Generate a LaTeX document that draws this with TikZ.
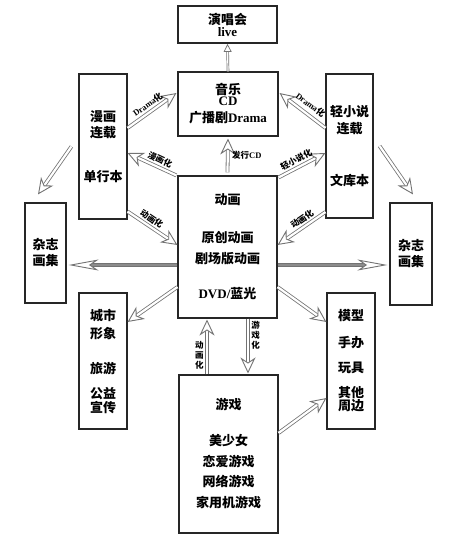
\documentclass[tikz,border=0pt]{standalone}
\usepackage{fontspec}
\setmainfont{Liberation Serif}
\newfontfamily\cjk{Noto Sans CJK SC}
\newcommand{\en}[1]{{\rmfamily\bfseries #1}}
\usetikzlibrary{arrows.meta, decorations.markings}

\tikzset{
  box/.style={draw=black!85, line width=1.1pt, inner sep=0pt, align=center,
    font=\cjk\bfseries\fontsize{13}{17}\selectfont},
  tip/.style={postaction={decorate, decoration={markings,
    mark=at position 1 with {\arrow[black!55, line width=0.9pt]{Stealth[open, fill=white, #1]}}}}},
  flow/.style={draw=black!55, line width=0.8pt, double=white, double distance=2.2pt,
    shorten >=9pt, tip={length=16pt, width=15pt, inset=5pt}},
  bar/.style={draw=black!55, line width=0.8pt, double=black!45, double distance=2.6pt,
    shorten >=22pt, tip={length=30pt, width=11pt, inset=8pt}},
  thin flow/.style={draw=black!55, line width=0.7pt, double=white, double distance=1.2pt,
    shorten >=5pt, postaction={decorate, decoration={markings,
    mark=at position 1 with {\arrow[black!55, line width=0.7pt]{Triangle[open, fill=white, length=8pt, width=8pt]}}}}},
  tag/.style={font=\cjk\bfseries\fontsize{8.5}{10}\selectfont, inner sep=1pt},
  vtag/.style={tag, align=center},
}

\begin{document}
\begin{tikzpicture}[x=1pt, y=-1pt]
  \useasboundingbox (0,0) rectangle (454,549);

  % boxes
  \node[box, line width=1.8pt, minimum width=99pt, minimum height=37pt] (live) at (227.5,24.5) {演唱会\\[-5pt]\en{live}};
  \node[box, minimum width=100pt, minimum height=64pt] (music) at (228,104) {音乐\\[-6pt]\en{CD}\\广播剧\en{Drama}};
  \node[box, minimum width=48pt, minimum height=145pt] (manga) at (103,146.5) {漫画\\[-1pt]连载\\[27pt]单行本};
  \node[box, minimum width=47pt, minimum height=144pt] (novel) at (349.5,146) {轻小说\\连载\\[35pt]文库本};
  \node[box, minimum width=99pt, minimum height=142pt] (anime) at (227.5,247) {动画\\[21pt]原创动画\\[4pt]剧场版动画\\[18pt]\en{DVD/}蓝光};
  \node[box, minimum width=41pt, minimum height=100pt] (magL) at (45.5,253) {杂志\\[-1pt]画集};
  \node[box, minimum width=42pt, minimum height=102pt] (magR) at (411,254) {杂志\\[-1pt]画集};
  \node[box, minimum width=48pt, minimum height=136pt] (city) at (103,361) {城市\\[1pt]形象\\[18pt]旅游\\[8pt]公益\\[-3pt]宣传};
  \node[box, minimum width=48pt, minimum height=136pt] (goods) at (351,361) {模型\\[10pt]手办\\[8pt]玩具\\[8pt]其他\\[-4pt]周边};
  \node[box, minimum width=99pt, minimum height=158pt] (game) at (228.5,454) {游戏\\[19pt]美少女\\[4pt]恋爱游戏\\[3pt]网络游戏\\[4pt]家用机游戏};

  % connectors
  \draw[thin flow] (music.north) -- (live.south);
  \draw[flow] ([yshift=18.5pt]manga.east) -- node[tag, sloped, above=2pt, pos=0.5] {\en{Drama}化} ([xshift=-1pt,yshift=11pt]music.west);
  \draw[flow] ([yshift=18pt]novel.west) -- node[tag, sloped, above=4pt, pos=0.45] {\en{Drama}化} ([xshift=1pt,yshift=11pt]music.east);
  \draw[flow] ([yshift=3pt]anime.north) -- node[tag, right=3pt] {发行\en{CD}} ([yshift=-2pt]music.south);
  \draw[flow] ([xshift=-1pt]anime.north west) -- node[tag, sloped, above=2pt, pos=0.4] {漫画化} ([yshift=-6.5pt]manga.east);
  \draw[flow] ([xshift=1pt,yshift=-2pt]anime.north east) -- node[tag, sloped, above=2pt, pos=0.45] {轻小说化} ([yshift=-7pt]novel.west);
  \draw[flow] ([yshift=-65pt]manga.east) -- node[tag, sloped, above=2pt, pos=0.4] {动画化} ([yshift=2pt]anime.west);
  \draw[flow] ([yshift=-66pt]novel.west) -- node[tag, sloped, above=2pt, pos=0.4] {动画化} ([yshift=2pt]anime.east);
  \draw[flow] ([xshift=-7pt]manga.west) -- ([xshift=-7.5pt,yshift=8pt]magL.north);
  \draw[flow] ([xshift=6pt]novel.east) -- ([xshift=2pt,yshift=8pt]magR.north);
  \draw[bar] ([yshift=-18pt]anime.west) -- ([xshift=2pt,yshift=-12pt]magL.east);
  \draw[bar] ([yshift=-18pt]anime.east) -- ([xshift=-2pt,yshift=-11pt]magR.west);
  \draw[flow] ([yshift=-40pt]anime.west) -- ([yshift=39pt]city.east);
  \draw[flow] ([yshift=-40pt]anime.east) -- ([yshift=39pt]goods.west);
  \draw[flow] ([xshift=-21.5pt]game.north) -- node[vtag, left=2pt, pos=0.35] {动\\画\\化} ([xshift=-20.5pt,yshift=-1pt]anime.south);
  \draw[flow] ([xshift=20.5pt]anime.south) -- node[vtag, right=2pt, pos=0.3] {游\\戏\\化} ([xshift=19.5pt,yshift=1pt]game.north);
  \draw[flow] ([yshift=21pt]game.east) -- ([yshift=-37pt]goods.west);
\end{tikzpicture}
\end{document}
